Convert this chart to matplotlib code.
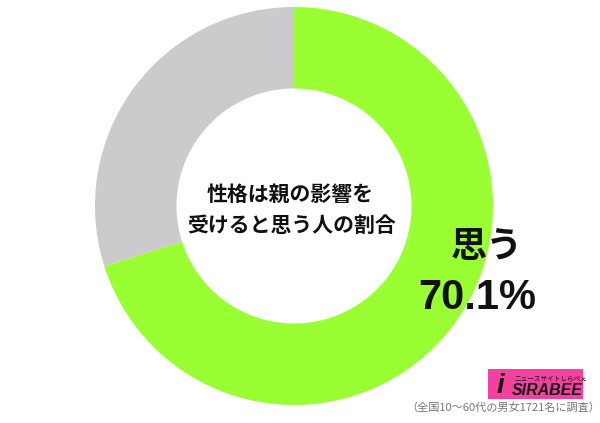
import matplotlib
matplotlib.use("Agg")
import matplotlib.pyplot as plt
from matplotlib.patches import Rectangle

plt.rcParams['font.family'] = ['Noto Sans CJK JP', 'DejaVu Sans']

labels = ["思う", "思わない"]
values = [70.1, 29.9]
colors = ["#99ff33", "#cccacc"]
title_lines = ["性格は親の影響を", "受けると思う人の割合"]
answer_label = "思う"
answer_pct = "70.1%"
footnote = "（全国10〜60代の男女1721名に調査）"

W, H = 600, 423
fig = plt.figure(figsize=(W / 100, H / 100), dpi=100)
fig.patch.set_facecolor("white")

# pie axes: center (294, 206), outer radius 199 px
cx, cy, R = 294, 206, 199
ax = fig.add_axes([(cx - R) / W, 1 - (cy + R) / H, 2 * R / W, 2 * R / H])
ax.pie(values, colors=colors, startangle=90, counterclock=False,
       radius=1.0, wedgeprops=dict(width=1 - 117.5 / 199, edgecolor="none"))
ax.set_xlim(-1, 1)
ax.set_ylim(-1, 1)
ax.set_aspect("equal")
ax.axis("off")

def fx(x):
    return x / W

def fy(y):
    return 1 - y / H

fig.text(fx(290), fy(194), title_lines[0], ha="center", va="center",
         fontsize=15, fontweight="bold", color="#111111")
fig.text(fx(292), fy(225), title_lines[1], ha="center", va="center",
         fontsize=15, fontweight="bold", color="#111111")

fig.text(fx(487), fy(246), answer_label, ha="center", va="center",
         fontsize=26, fontweight="bold", color="#111111")
fig.text(fx(477), fy(298), answer_pct, ha="center", va="center",
         fontsize=30, fontweight="bold",
         family=["Liberation Sans", "DejaVu Sans"], color="#111111")

# logo
fig.patches.append(Rectangle((fx(488), fy(399)), (583 - 488) / W, (399 - 369) / H,
                             transform=fig.transFigure, facecolor="#f4419f",
                             edgecolor="none"))
fig.text(fx(551), fy(378), "ニュースサイトしらべぇ", ha="center", va="center",
         fontsize=4.8, color="#111111")
fig.text(fx(547), fy(390), "SIRABEE", ha="center", va="center",
         fontsize=11.5, fontweight="bold", style="italic",
         family=["Liberation Sans", "DejaVu Sans"], color="#111111")
fig.text(fx(500), fy(386), "i", ha="center", va="center",
         fontsize=20, fontweight="bold", style="italic",
         family=["Liberation Sans", "DejaVu Sans"], color="#111111")

fig.text(fx(503), fy(408), footnote, ha="center", va="center",
         fontsize=8, color="#777777")

fig.savefig("out.png", dpi=100, facecolor="white")
